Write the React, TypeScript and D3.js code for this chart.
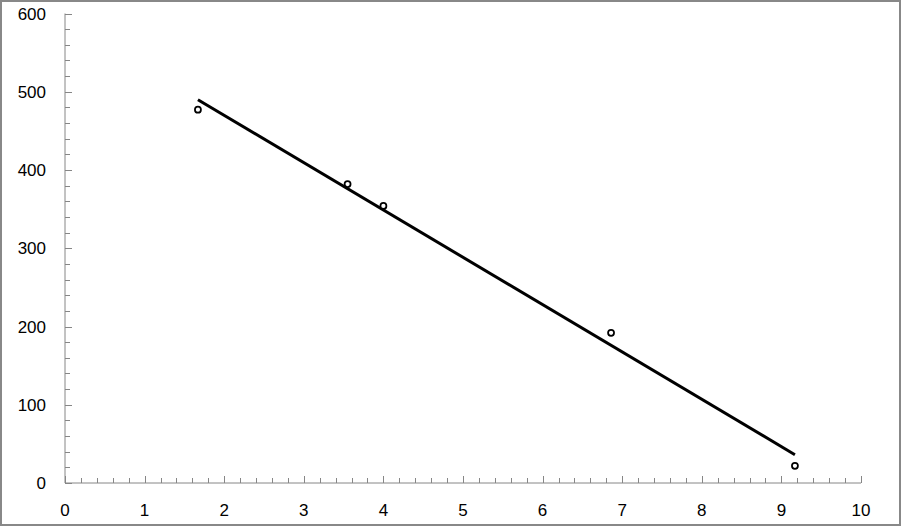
import React from "react";
import * as d3 from "d3";

const xValues = [1.67, 3.55, 4.0, 6.86, 9.17];
const yValues = [477, 382, 354, 192, 22];
const xTickLabels = ["0", "1", "2", "3", "4", "5", "6", "7", "8", "9", "10"];
const yTickLabels = ["0", "100", "200", "300", "400", "500", "600"];

const W = 902;
const H = 527;
const left = 65;
const right = 861;
const top = 13.5;
const bottom = 483;
const axisColor = "#868686";
const font = "'Liberation Sans', Arial, sans-serif";

export default function App() {
  const x = d3.scaleLinear().domain([0, 10]).range([left, right]);
  const y = d3.scaleLinear().domain([0, 600]).range([bottom, top]);

  const mx = d3.mean(xValues)!;
  const my = d3.mean(yValues)!;
  const sxy = d3.sum(xValues.map((v, i) => (v - mx) * (yValues[i] - my)));
  const sxx = d3.sum(xValues.map((v) => (v - mx) ** 2));
  const slope = sxy / sxx;
  const intercept = my - slope * mx;
  const [x0, x1] = d3.extent(xValues) as [number, number];
  const fit: [number, number][] = [
    [x0, intercept + slope * x0],
    [x1, intercept + slope * x1],
  ];
  const line = d3
    .line<[number, number]>()
    .x((d) => x(d[0]))
    .y((d) => y(d[1]));

  const xMinor = d3.range(0, 10.0001, 0.2);
  const yMinor = d3.range(0, 600.001, 20);

  return (
    <svg
      width={W}
      height={H}
      style={{ position: "absolute", left: 0, top: 0, background: "#fff" }}
    >
      <rect x={1} y={1} width={899} height={524} fill="#fff" stroke="#888" strokeWidth={2} />
      {/* axes */}
      <line x1={left} x2={left} y1={top} y2={bottom} stroke={axisColor} strokeWidth={1} />
      <line x1={left} x2={right} y1={bottom} y2={bottom} stroke={axisColor} strokeWidth={1} />
      {xMinor.map((v, i) => {
        const major = i % 5 === 0;
        const px = Math.round(x(v)) + 0.5;
        return (
          <line key={"xt" + i} x1={px} x2={px} y1={bottom} y2={bottom - (major ? 7 : 5)} stroke={axisColor} strokeWidth={1} />
        );
      })}
      {yMinor.map((v, i) => {
        const major = i % 5 === 0;
        const py = Math.round(y(v)) + 0.5;
        return (
          <line key={"yt" + i} x1={left} x2={left + (major ? 7 : 5)} y1={py} y2={py} stroke={axisColor} strokeWidth={1} />
        );
      })}
      {xTickLabels.map((t) => (
        <text key={"xl" + t} x={x(+t)} y={516} textAnchor="middle" fontFamily={font} fontSize={17} fill="#000">
          {t}
        </text>
      ))}
      {yTickLabels.map((t) => (
        <text key={"yl" + t} x={46} y={y(+t) + 6} textAnchor="end" fontFamily={font} fontSize={17} fill="#000">
          {t}
        </text>
      ))}
      <path d={line(fit) ?? ""} fill="none" stroke="#000" strokeWidth={3} />
      {xValues.map((v, i) => (
        <circle key={"p" + i} cx={x(v)} cy={y(yValues[i])} r={3} fill="#fff" stroke="#000" strokeWidth={1.75} />
      ))}
    </svg>
  );
}
